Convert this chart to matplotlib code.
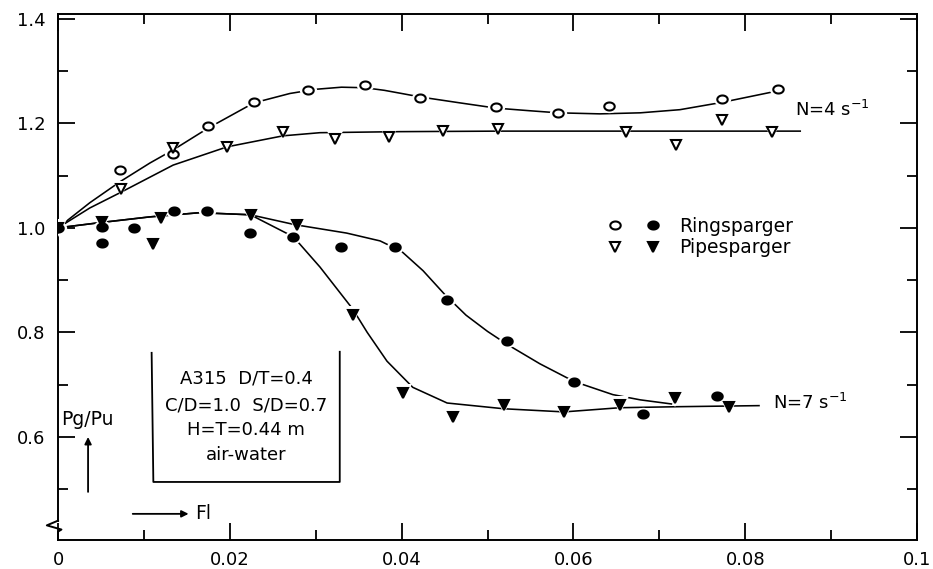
import numpy as np
import matplotlib
matplotlib.use("Agg")
import matplotlib.pyplot as plt
from matplotlib.path import Path
from matplotlib.lines import Line2D
from matplotlib.legend_handler import HandlerTuple
from matplotlib.transforms import blended_transform_factory

plt.rcParams['font.family'] = ['DejaVu Sans']

# ---------------- data ----------------
ring4_x = [0.0072, 0.0134, 0.0175, 0.0228, 0.0291, 0.0357, 0.0422, 0.0510, 0.0582, 0.0641, 0.0773, 0.0838]
ring4_y = [1.111, 1.141, 1.195, 1.241, 1.264, 1.273, 1.249, 1.231, 1.220, 1.233, 1.247, 1.266]
pipe4_x = [0.0073, 0.0134, 0.0197, 0.0262, 0.0322, 0.0385, 0.0448, 0.0512, 0.0661, 0.0719, 0.0773, 0.0831]
pipe4_y = [1.075, 1.153, 1.155, 1.184, 1.170, 1.174, 1.185, 1.189, 1.184, 1.159, 1.206, 1.184]
ring7_x = [0.0, 0.0051, 0.0051, 0.0088, 0.0135, 0.0174, 0.0224, 0.0274, 0.0329, 0.0392, 0.0453, 0.0523, 0.0601, 0.0681, 0.0767]
ring7_y = [1.0, 1.002, 0.971, 1.0, 1.033, 1.033, 0.990, 0.983, 0.964, 0.964, 0.862, 0.784, 0.706, 0.644, 0.679]
pipe7_x = [0.0, 0.0051, 0.0111, 0.0120, 0.0225, 0.0278, 0.0343, 0.0402, 0.0460, 0.0519, 0.0589, 0.0654, 0.0718, 0.0781]
pipe7_y = [1.0, 1.011, 0.969, 1.019, 1.025, 1.006, 0.834, 0.685, 0.639, 0.662, 0.648, 0.662, 0.675, 0.658]

# hand-drawn curves
ring4_fit_x = [0, 0.0037, 0.0072, 0.0107, 0.0134, 0.0175, 0.0228, 0.0270, 0.0300, 0.0330, 0.0357, 0.0380,
               0.0400, 0.0423, 0.0468, 0.0510, 0.0549, 0.0582, 0.0631, 0.0678, 0.0724, 0.0773, 0.0838]
ring4_fit_y = [1.0, 1.048, 1.088, 1.124, 1.149, 1.191, 1.239, 1.257, 1.265, 1.269, 1.268, 1.263,
               1.257, 1.250, 1.239, 1.229, 1.224, 1.220, 1.218, 1.220, 1.226, 1.240, 1.262]
pipe4_fit_x = [0, 0.0037, 0.0072, 0.0134, 0.0197, 0.0262, 0.0305, 0.0398, 0.0515, 0.0631, 0.0747, 0.0865]
pipe4_fit_y = [1.0, 1.038, 1.067, 1.120, 1.155, 1.176, 1.182, 1.184, 1.185, 1.185, 1.185, 1.185]
ring7_fit_x = [0, 0.0049, 0.0107, 0.0165, 0.0224, 0.0276, 0.0336, 0.0375, 0.0400, 0.0425, 0.0450,
               0.0475, 0.0500, 0.0523, 0.0561, 0.0601, 0.0646, 0.0678, 0.0715]
ring7_fit_y = [1.0, 1.010, 1.021, 1.029, 1.025, 1.006, 0.990, 0.975, 0.955, 0.918, 0.873,
               0.833, 0.802, 0.777, 0.740, 0.706, 0.681, 0.671, 0.663]
pipe7_fit_x = [0, 0.0049, 0.0107, 0.0165, 0.0224, 0.0274, 0.0305, 0.0343, 0.0360, 0.0383, 0.0413,
               0.0453, 0.0519, 0.0589, 0.0654, 0.0724, 0.0817]
pipe7_fit_y = [1.0, 1.010, 1.021, 1.029, 1.025, 0.983, 0.925, 0.845, 0.800, 0.745, 0.695,
               0.665, 0.654, 0.648, 0.656, 0.658, 0.660]

xticks = [0, 0.02, 0.04, 0.06, 0.08, 0.1]
xticklabels = ['0', '0.02', '0.04', '0.06', '0.08', '0.1']
xminor = [0.01, 0.03, 0.05, 0.07, 0.09]
yticks = [0.6, 0.8, 1.0, 1.2, 1.4]
yticklabels = ['0.6', '0.8', '1.0', '1.2', '1.4']
yminor = [0.5, 0.7, 0.9, 1.1, 1.3]
legend_labels = ['Ringsparger', 'Pipesparger']
info_lines = ['A315  D/T=0.4', 'C/D=1.0  S/D=0.7', 'H=T=0.44 m', 'air-water']

# ---------------- figure ----------------
fig = plt.figure(figsize=(9.33, 5.69), dpi=100)
ax = fig.add_axes([58/933, 29/569, 859/933, 526/569])
ax.set_xlim(0, 0.1)
ax.set_ylim(0.403, 1.409)

t = np.linspace(0, 2*np.pi, 41)
ell = Path(np.column_stack([1.3*np.cos(t), np.sin(t)]), closed=True)

for fx, fy in [(ring4_fit_x, ring4_fit_y), (pipe4_fit_x, pipe4_fit_y),
               (ring7_fit_x, ring7_fit_y), (pipe7_fit_x, pipe7_fit_y)]:
    ax.plot(fx, fy, color='k', lw=1.15, zorder=2, solid_capstyle='butt', solid_joinstyle='round')

def draw_series(x, y, marker, filled, ms):
    ax.plot(x, y, ls='none', marker=marker, ms=ms + 5, mfc='white', mec='white', mew=0, zorder=3)
    ax.plot(x, y, ls='none', marker=marker, ms=ms, mfc='k' if filled else 'white',
            mec='k', mew=1.5, zorder=4)

draw_series(ring4_x, ring4_y, ell, False, 7.5)
draw_series(pipe4_x, pipe4_y, 'v', False, 7)
draw_series(ring7_x, ring7_y, ell, True, 7.5)
draw_series(pipe7_x, pipe7_y, 'v', True, 7.5)

# axes / ticks
ax.set_xticks(xticks)
ax.set_xticklabels(xticklabels)
ax.set_xticks(xminor, minor=True)
ax.set_yticks(yticks)
ax.set_yticklabels(yticklabels)
ax.set_yticks(yminor, minor=True)
ax.tick_params(which='both', direction='in', top=True, right=True, width=1.3, labelsize=13)
ax.tick_params(which='major', length=12)
ax.tick_params(which='minor', length=7)
ax.tick_params(axis='x', pad=8)
ax.tick_params(axis='y', pad=9)
for s in ax.spines.values():
    s.set_linewidth(1.4)

# axis break on the left spine
ax.spines['left'].set_bounds(0.440, 1.409)
tr = blended_transform_factory(ax.transAxes, ax.transData)
ax.plot([0, -0.013, 0.004, 0.0, 0.0], [0.440, 0.431, 0.423, 0.419, 0.403],
        color='k', lw=1.4, transform=tr, clip_on=False, zorder=5)

# legend
h_ring = (Line2D([], [], ls='none', marker=ell, ms=7.5, mfc='white', mec='k', mew=1.5),
          Line2D([], [], ls='none', marker=ell, ms=7.5, mfc='k', mec='k', mew=1.5))
h_pipe = (Line2D([], [], ls='none', marker='v', ms=7, mfc='white', mec='k', mew=1.5),
          Line2D([], [], ls='none', marker='v', ms=7.5, mfc='k', mec='k', mew=1.5))
ax.legend([h_ring, h_pipe], legend_labels,
          handler_map={tuple: HandlerTuple(ndivide=None, pad=1.0)},
          loc='upper left', bbox_to_anchor=(0.638, 0.614), frameon=False,
          fontsize=13.5, handlelength=3.0, handletextpad=0.9, labelspacing=0.12,
          borderpad=0, borderaxespad=0)

# curve labels
ax.text(0.0858, 1.226, r'N=4 s$^{-1}$', fontsize=13, va='center', ha='left')
ax.text(0.0832, 0.665, r'N=7 s$^{-1}$', fontsize=13, va='center', ha='left')

# info box (open at top)
ax.plot([0.0109, 0.0111, 0.0328, 0.0328], [0.761, 0.514, 0.514, 0.763], color='k', lw=1.3)
for yy, s in zip([0.711, 0.660, 0.614, 0.566], info_lines):
    ax.text(0.0219, yy, s, fontsize=13, ha='center', va='center')

# axis captions with arrows
ax.text(0.0004, 0.633, 'Pg/Pu', fontsize=13.5, ha='left', va='center')
ax.annotate('', xy=(0.0035, 0.600), xytext=(0.0035, 0.495),
            arrowprops=dict(arrowstyle='-|>', lw=1.3, color='k', mutation_scale=10,
                            shrinkA=0, shrinkB=0))
ax.annotate('', xy=(0.0152, 0.453), xytext=(0.0087, 0.453),
            arrowprops=dict(arrowstyle='-|>', lw=1.3, color='k', mutation_scale=10,
                            shrinkA=0, shrinkB=0))
ax.text(0.0160, 0.453, 'Fl', fontsize=13.5, ha='left', va='center')

fig.savefig('out.png', dpi=100)
